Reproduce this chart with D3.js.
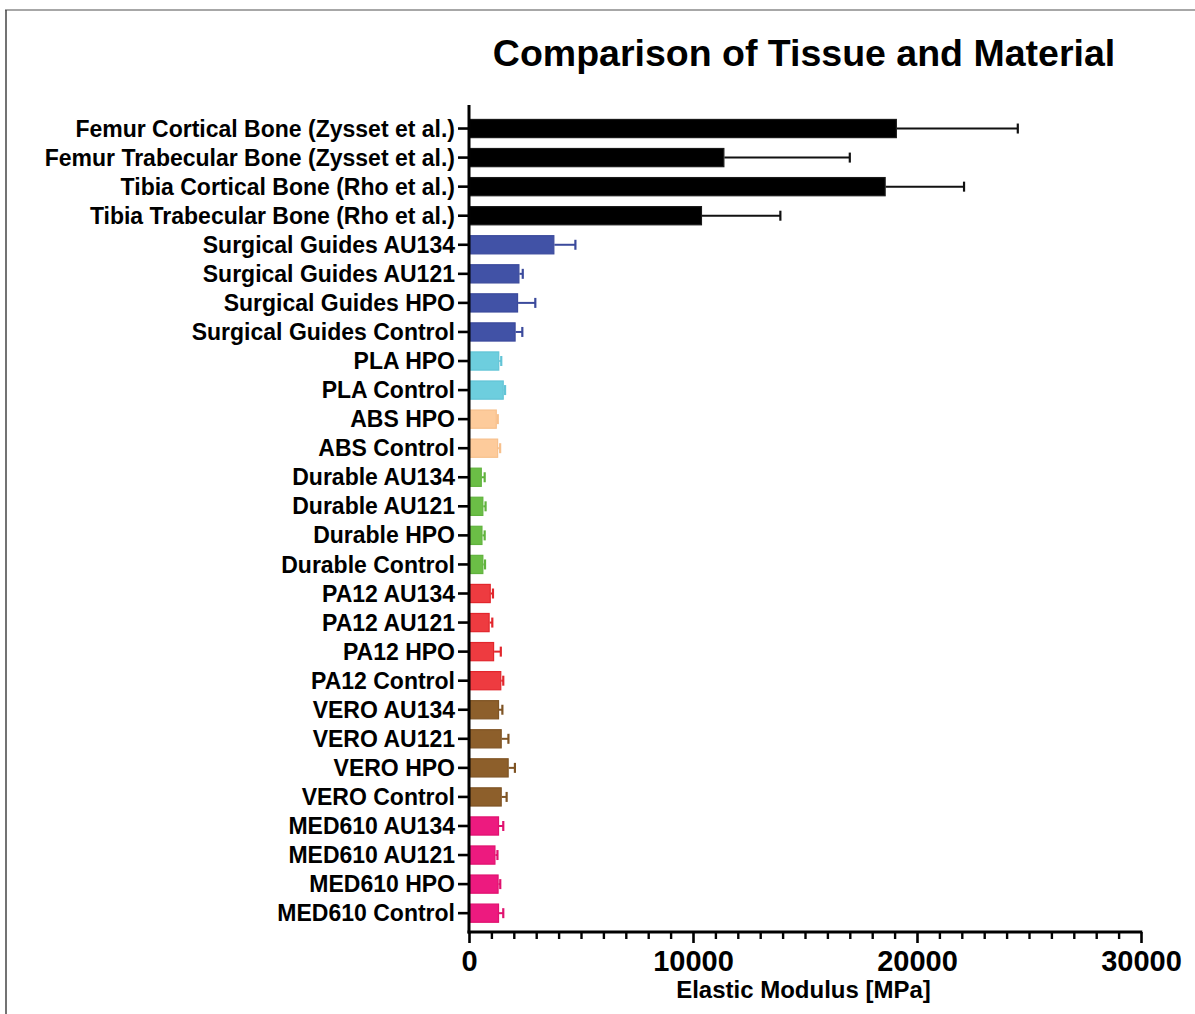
<!DOCTYPE html>
<html>
<head>
<meta charset="utf-8">
<script src="https://cdn.jsdelivr.net/npm/d3@7"></script>
<style>
  html, body { margin: 0; padding: 0; background: #fff; }
  svg { display: block; }
  text { font-family: "Liberation Sans", Arial, sans-serif; font-weight: bold; fill: #000; }
</style>
</head>
<body>
<svg id="chart" width="1195" height="1014"></svg>
<script>
// Samples, top to bottom
const categories = [
  "Femur Cortical Bone (Zysset et al.)",
  "Femur Trabecular Bone (Zysset et al.)",
  "Tibia Cortical Bone (Rho et al.)",
  "Tibia Trabecular Bone (Rho et al.)",
  "Surgical Guides AU134",
  "Surgical Guides AU121",
  "Surgical Guides HPO",
  "Surgical Guides Control",
  "PLA HPO",
  "PLA Control",
  "ABS HPO",
  "ABS Control",
  "Durable AU134",
  "Durable AU121",
  "Durable HPO",
  "Durable Control",
  "PA12 AU134",
  "PA12 AU121",
  "PA12 HPO",
  "PA12 Control",
  "VERO AU134",
  "VERO AU121",
  "VERO HPO",
  "VERO Control",
  "MED610 AU134",
  "MED610 AU121",
  "MED610 HPO",
  "MED610 Control"
];

// Material family of each sample
const groups = [
  "Bone", "Bone", "Bone", "Bone",
  "Surgical Guides", "Surgical Guides", "Surgical Guides", "Surgical Guides",
  "PLA", "PLA",
  "ABS", "ABS",
  "Durable", "Durable", "Durable", "Durable",
  "PA12", "PA12", "PA12", "PA12",
  "VERO", "VERO", "VERO", "VERO",
  "MED610", "MED610", "MED610", "MED610"
];

// Mean elastic modulus [MPa]
const meanModulus = [
  19100, 11400, 18600, 10400,
  3810, 2250, 2190, 2080,
  1350, 1550,
  1240, 1300,
  570, 640, 600, 640,
  970, 920, 1120, 1440,
  1340, 1460, 1770, 1460,
  1340, 1180, 1320, 1340
];

// Standard deviation [MPa]
const sdModulus = [
  5400, 5600, 3500, 3500,
  940, 150, 770, 300,
  90, 60,
  45, 90,
  130, 100, 100, 75,
  100, 120, 300, 90,
  150, 300, 280, 220,
  190, 90, 75, 190
];

const xMajorTicks = [0, 10000, 20000, 30000];
const xMinorStep = 1000;

const familyNames = ["Bone", "Surgical Guides", "PLA", "ABS", "Durable", "PA12", "VERO", "MED610"];
const familyFill  = ["#000000", "#4152A6", "#6DCEDE", "#FDCB9B", "#6BBE46", "#EE3B40", "#8D5F2B", "#ED1A7F"];
const familyLine  = ["#1a1a1a", "#3B4A9C", "#62C4D6", "#F7C08C", "#60B33D", "#E2262C", "#7F5424", "#E0116F"];

const rows = categories.map((c, i) => ({
  name: c, group: groups[i], mean: meanModulus[i], sd: sdModulus[i]
}));

const svg = d3.select("#chart");

// Frame lines along the top and left edge
svg.append("line").attr("x1", 5).attr("x2", 1195).attr("y1", 10).attr("y2", 10)
  .attr("stroke", "#8a8a8a").attr("stroke-width", 1.5);
svg.append("line").attr("x1", 6).attr("x2", 6).attr("y1", 10).attr("y2", 1014)
  .attr("stroke", "#444").attr("stroke-width", 1.5);

const x0 = 469, x1 = 1141;
const yAxisTop = 105, xAxisY = 932;

const x = d3.scaleLinear().domain([0, 30000]).range([x0, x1]);
const y = d3.scaleBand().domain(categories).range([114, 927.7])
  .paddingInner(0.34).paddingOuter(0.17);

const fill = d3.scaleOrdinal().domain(familyNames).range(familyFill);
const line = d3.scaleOrdinal().domain(familyNames).range(familyLine);

// Title
svg.append("text")
  .attr("x", (x0 + x1) / 2 - 1).attr("y", 66)
  .attr("text-anchor", "middle")
  .style("font-size", "37.5px")
  .text("Comparison of Tissue and Material");

// Bars
const bars = svg.append("g");
bars.selectAll("rect").data(rows).join("rect")
  .attr("x", x(0) + 0.5)
  .attr("y", d => y(d.name) + 0.5)
  .attr("width", d => x(d.mean) - x(0) - 1)
  .attr("height", y.bandwidth() - 1)
  .attr("fill", d => fill(d.group))
  .attr("stroke", d => line(d.group))
  .attr("stroke-width", 1.2);

// Error bars (upper side only)
const err = svg.append("g");
const capH = 10;
err.selectAll("line.whisker").data(rows).join("line")
  .attr("class", "whisker")
  .attr("x1", d => x(d.mean)).attr("x2", d => x(d.mean + d.sd))
  .attr("y1", d => y(d.name) + y.bandwidth() / 2)
  .attr("y2", d => y(d.name) + y.bandwidth() / 2)
  .attr("stroke", d => d.group === "Bone" ? "#111" : line(d.group))
  .attr("stroke-width", 2);
err.selectAll("line.cap").data(rows).join("line")
  .attr("class", "cap")
  .attr("x1", d => x(d.mean + d.sd)).attr("x2", d => x(d.mean + d.sd))
  .attr("y1", d => y(d.name) + y.bandwidth() / 2 - capH / 2)
  .attr("y2", d => y(d.name) + y.bandwidth() / 2 + capH / 2)
  .attr("stroke", d => d.group === "Bone" ? "#111" : line(d.group))
  .attr("stroke-width", 2.2);

// Y axis
const yAxis = svg.append("g").attr("transform", `translate(${x0},0)`)
  .call(d3.axisLeft(y).tickSize(11).tickSizeOuter(0).tickPadding(3));
yAxis.select(".domain").remove();
yAxis.selectAll(".tick line").attr("stroke", "#000").attr("stroke-width", 2.6);
yAxis.selectAll(".tick text").style("font-size", "23px").attr("dy", "0.35em");
svg.append("line").attr("x1", x0).attr("x2", x0).attr("y1", yAxisTop).attr("y2", xAxisY + 1.5)
  .attr("stroke", "#000").attr("stroke-width", 3);

// X axis: minor ticks every 1000, labelled major ticks every 10000
const minorVals = d3.range(0, 30001, xMinorStep).filter(v => !xMajorTicks.includes(v));
const xMinor = svg.append("g").attr("transform", `translate(0,${xAxisY})`)
  .call(d3.axisBottom(x).tickValues(minorVals).tickSize(7).tickFormat(""));
xMinor.select(".domain").remove();
xMinor.selectAll(".tick line").attr("stroke", "#000").attr("stroke-width", 2.4);

const xAxis = svg.append("g").attr("transform", `translate(0,${xAxisY})`)
  .call(d3.axisBottom(x).tickValues(xMajorTicks).tickSize(11).tickSizeOuter(0)
    .tickPadding(4).tickFormat(d3.format("d")));
xAxis.select(".domain").remove();
xAxis.selectAll(".tick line").attr("stroke", "#000").attr("stroke-width", 2.6);
xAxis.selectAll(".tick text").style("font-size", "29px").attr("dy", "0")
  .attr("y", 39);
svg.append("line").attr("x1", x0 - 1.5).attr("x2", x1 + 1.3).attr("y1", xAxisY).attr("y2", xAxisY)
  .attr("stroke", "#000").attr("stroke-width", 3);

// X axis title
svg.append("text")
  .attr("x", 803.5).attr("y", 998)
  .attr("text-anchor", "middle")
  .style("font-size", "24px")
  .text("Elastic Modulus [MPa]");
</script>
</body>
</html>
